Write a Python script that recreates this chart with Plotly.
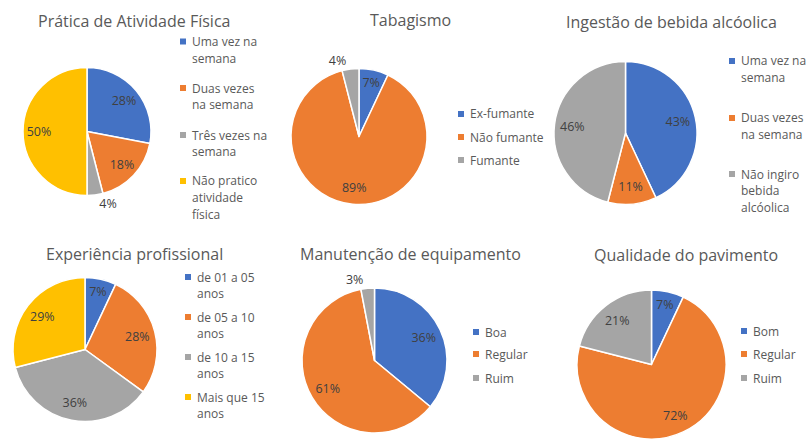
import plotly.graph_objects as go

W, H = 806, 439
OFF = 0  # page margin removed below
BLUE, ORANGE, GRAY, YELLOW = "#4472C4", "#ED7D31", "#A5A5A5", "#FFC000"
FONT = "Open Sans"

# ---- data ----
titles = ["Prática de Atividade Física", "Tabagismo", "Ingestão de bebida alcóolica",
          "Experiência profissional", "Manutenção de equipamento", "Qualidade do pavimento"]

atividade_labels = ["Uma vez na<br>semana", "Duas vezes<br>na semana", "Três vezes na<br>semana",
                    "Não pratico<br>atividade<br>física"]
atividade_values = [28, 18, 4, 50]

tabagismo_labels = ["Ex-fumante", "Não fumante", "Fumante"]
tabagismo_values = [7, 89, 4]

alcool_labels = ["Uma vez na<br>semana", "Duas vezes<br>na semana", "Não ingiro<br>bebida<br>alcóolica"]
alcool_values = [43, 11, 46]

experiencia_labels = ["de 01 a 05<br>anos", "de 05 a 10<br>anos", "de 10 a 15<br>anos", "Mais que 15<br>anos"]
experiencia_values = [7, 28, 36, 29]

manutencao_labels = ["Boa", "Regular", "Ruim"]
manutencao_values = [36, 61, 3]

pavimento_labels = ["Bom", "Regular", "Ruim"]
pavimento_values = [7, 72, 21]

# ---- layout (pixel geometry, reference screen coordinates) ----
pies = [
    dict(labels=atividade_labels, values=atividade_values, colors=[BLUE, ORANGE, GRAY, YELLOW],
         pos=["inside", "inside", "outside", "inside"], c=(87, 131.5), r=64,
         title=(134, 21), leg_x=190, leg_y=[41.5, 88, 135, 181]),
    dict(labels=tabagismo_labels, values=tabagismo_values, colors=[BLUE, ORANGE, GRAY],
         pos=["inside", "inside", "outside"], c=(359, 136.5), r=68,
         title=(410, 20), leg_x=468, leg_y=[114, 137, 160]),
    dict(labels=alcool_labels, values=alcool_values, colors=[BLUE, ORANGE, GRAY],
         pos=["inside", "inside", "inside"], c=(625.5, 133), r=71.5,
         title=(671, 22), leg_x=739, leg_y=[61, 118, 174]),
    dict(labels=experiencia_labels, values=experiencia_values, colors=[BLUE, ORANGE, GRAY, YELLOW],
         pos=["inside", "inside", "inside", "inside"], c=(85, 349.5), r=72,
         title=(134, 254), leg_x=195, leg_y=[277, 317, 357, 397]),
    dict(labels=manutencao_labels, values=manutencao_values, colors=[BLUE, ORANGE, GRAY],
         pos=["inside", "inside", "outside"], c=(374.5, 360.5), r=72.5,
         title=(410, 254), leg_x=483, leg_y=[332, 354, 378]),
    dict(labels=pavimento_labels, values=pavimento_values, colors=[BLUE, ORANGE, GRAY],
         pos=["inside", "inside", "inside"], c=(651.5, 366.5), r=76.5,
         title=(686, 255), leg_x=751, leg_y=[331, 354, 378]),
]

LINE_H = 16.7


def px(x):
    return (x - OFF) / W


def py(y):
    return 1 - (y - OFF) / H


fig = go.Figure()
annotations = []
shapes = []
for i, p in enumerate(pies):
    cx, cy = p["c"]
    r = p["r"]
    dom = dict(x=[px(cx - r), px(cx + r)], y=[max(0.0, py(cy + r)), min(1.0, py(cy - r))])
    # filled pie
    fig.add_trace(go.Pie(
        labels=p["labels"], values=p["values"], sort=False, direction="clockwise", rotation=0,
        marker=dict(colors=p["colors"], line=dict(color="white", width=1.5)),
        textinfo="none", domain=dom, showlegend=False, hoverinfo="label+percent",
    ))
    # transparent ring carrying the data labels
    fig.add_trace(go.Pie(
        labels=p["labels"], values=p["values"], sort=False, direction="clockwise", rotation=0,
        hole=0.5,
        marker=dict(colors=["rgba(0,0,0,0)"] * len(p["values"]), line=dict(width=0)),
        textinfo="percent", texttemplate="%{percent:.0%}", textposition=p["pos"],
        insidetextorientation="horizontal",
        textfont=dict(family=FONT, size=12.5, color="#404040"),
        domain=dom, showlegend=False, hoverinfo="skip",
    ))
    tx, ty = p["title"]
    annotations.append(dict(text=titles[i], x=px(tx), y=py(ty), xref="paper", yref="paper",
                            xanchor="center", yanchor="middle", showarrow=False,
                            font=dict(family=FONT, size=16, color="#595959")))
    # legend built from the labels
    lx = p["leg_x"]
    for lab, col, y0 in zip(p["labels"], p["colors"], p["leg_y"]):
        for k, line in enumerate(lab.split("<br>")):
            annotations.append(dict(text=line, x=px(lx), y=py(y0 + k * LINE_H), xref="paper",
                                    yref="paper", xanchor="left", yanchor="middle",
                                    showarrow=False,
                                    font=dict(family=FONT, size=12, color="#595959")))
        shapes.append(dict(type="rect", xref="paper", yref="paper",
                           x0=px(lx - 10), x1=px(lx - 4), y0=py(y0 - 3), y1=py(y0 + 3),
                           fillcolor=col, line=dict(width=0)))

fig.update_layout(
    width=W, height=H, margin=dict(l=0, r=0, t=0, b=0),
    paper_bgcolor="white", plot_bgcolor="white", showlegend=False,
    uniformtext=dict(minsize=12, mode="show"),
    annotations=annotations, shapes=shapes,
)
fig.write_html("out.html", config={"displayModeBar": False},
               post_script="document.body.style.margin='0px';document.body.style.overflow='hidden';")
